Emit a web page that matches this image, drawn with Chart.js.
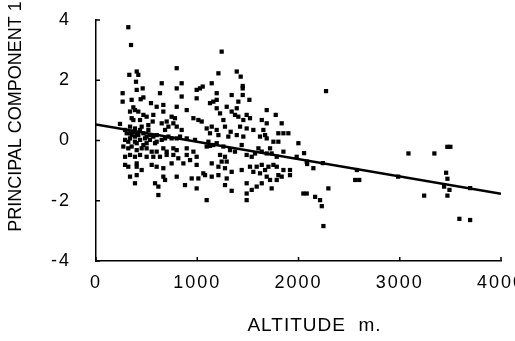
<!DOCTYPE html>
<html><head><meta charset="utf-8">
<script src="https://cdn.jsdelivr.net/npm/chart.js@4"></script>
<style>html,body{margin:0;padding:0;overflow:hidden;background:#fff}#wrap{width:540px;height:341px;position:relative}</style>
</head><body><div id="wrap"><canvas id="c"></canvas></div>
<script>
const altitude = [
319,346,1241,797,402,329,418,1209,1390,1429,395,649,846,1143,1449,1449,263,263,402,461,632,797,994,1054,1027,1192,846,994,1340,1449,1515,1406,441,468,352,1159,1192,1126,543,599,665,797,896,369,385,336,418,468,500,566,665,747,780,962,1011,1044,1192,1225,1291,1340,1373,1390,1406,1258,1455,1488,1521,1686,1775,1637,1686,1834,352,369,435,237,287,336,385,402,451,517,560,649,698,715,764,797,846,682,1093,1143,1192,1274,1330,1423,1488,1554,1653,1670,1801,1851,1900,1126,1209,1307,1390,1455,1620,1686,1752,1801,1999,
303,336,352,369,385,418,435,468,484,500,517,533,566,599,287,319,336,385,402,435,468,500,533,583,599,649,682,715,747,797,830,896,978,1110,1159,1192,1258,1439,1604,1719,1851,
270,319,352,402,451,500,550,599,665,698,764,797,896,962,287,336,385,435,500,566,632,698,764,813,896,994,1093,1126,1225,1274,1324,1373,1488,1538,1571,1637,1686,1735,1785,1982,2081,287,319,402,402,451,550,599,665,747,863,929,994,1143,1209,1241,1291,1274,1521,1587,1637,1670,1703,1752,1785,1851,1916,1686,1719,1801,1834,1916,336,402,665,797,945,1011,1060,1077,1143,1209,1291,1340,1439,1554,1620,1785,385,583,616,682,879,994,1274,1340,1488,1587,1538,1637,1735,616,1488,1488,1093,2048,2081,
2147,2295,2164,2213,2230,2246,2272,3086,3342,3470,3500,2560,2600,2240,2576,2984,3458,3471,3438,3491,3241,3471,3589,3695,3695,2055,2085
];
const pc1 = [
3.76,3.17,2.95,2.40,2.29,2.18,2.18,2.23,2.29,2.12,1.95,1.90,1.90,1.90,1.81,1.73,1.57,1.29,1.68,1.73,1.57,1.73,1.68,1.79,1.73,1.57,1.46,1.40,1.51,1.51,1.35,1.29,1.37,1.43,1.35,1.29,1.35,1.24,1.24,1.12,1.18,1.12,1.01,1.10,1.01,0.96,0.96,0.85,0.79,0.85,0.96,0.79,0.74,0.74,0.68,0.63,1.07,0.90,1.12,0.96,0.85,1.07,0.79,0.68,0.68,0.85,0.74,1.01,0.85,0.68,0.57,0.57,0.74,0.68,0.68,0.55,0.35,0.46,0.40,0.24,0.46,0.51,0.63,0.57,0.63,0.46,0.57,0.46,0.35,0.35,0.40,0.46,0.35,0.46,0.29,0.46,0.40,0.35,0.35,0.18,0.24,0.24,0.24,0.24,0.18,0.13,0.18,0.13,0.13,0.07,-0.04,-0.04,-0.09,
0.24,0.24,0.18,0.29,0.13,0.18,0.35,0.24,0.07,0.13,0.35,0.18,0.13,0.18,0.02,-0.04,0.07,-0.04,-0.09,0.02,-0.15,-0.09,0.02,-0.09,-0.04,0.02,0.07,0.13,0.07,0.07,0.13,0.07,0.02,-0.04,-0.15,-0.09,-0.20,-0.15,-0.26,-0.26,-0.37,
-0.20,-0.26,-0.20,-0.32,-0.26,-0.26,-0.37,-0.37,-0.26,-0.37,-0.26,-0.32,-0.26,-0.37,-0.54,-0.48,-0.54,-0.48,-0.54,-0.54,-0.54,-0.48,-0.48,-0.59,-0.48,-0.54,-0.20,-0.18,-0.48,-0.54,-0.32,-0.37,-0.48,-0.54,-0.43,-0.37,-0.43,-0.43,-0.54,-0.54,-0.70,-0.81,-0.87,-0.76,-0.87,-0.98,-0.81,-0.87,-0.92,-0.76,-0.76,-0.65,-0.81,-0.76,-0.87,-0.70,-0.70,-0.92,-0.87,-0.87,-0.81,-0.98,-0.87,-0.81,-0.87,-0.98,-0.98,-1.20,-1.31,-1.15,-1.20,-1.15,-1.20,-1.15,-1.20,-1.20,-1.26,-1.26,-1.09,-1.15,-1.20,-1.15,-1.26,-1.04,-0.98,-1.04,-1.09,-1.31,-1.42,-1.42,-1.53,-1.31,-1.48,-1.59,-1.48,-1.67,-1.42,-1.53,-1.64,-1.42,-1.59,-1.81,-1.76,-1.98,-1.98,-1.76,-1.76,
-0.92,-1.59,-1.87,-1.98,-2.18,-2.84,1.64,-0.43,-0.43,-0.21,-0.21,-1.31,-1.31,-0.75,-0.98,-1.20,-1.07,-1.27,-1.53,-1.64,-1.83,-1.83,-2.60,-2.64,-1.58,-0.42,-0.78
];
const fitAltitude = [0, 4000];
const fitPC1 = [0.53, -1.77];
const xTicks = [0, 1000, 2000, 3000, 4000];
const yTicks = [-4, -2, 0, 2, 4];
const xTitle = 'ALTITUDE  m.';
const yTitle = 'PRINCIPAL COMPONENT 1';

const FONT = "'Liberation Sans', Arial, sans-serif";
const points = altitude.map((a, i) => ({x: a, y: pc1[i]}));
const fit = fitAltitude.map((a, i) => ({x: a, y: fitPC1[i]}));

const extras = {
  id: 'extras',
  beforeDraw(chart) { chart.ctx.letterSpacing = '2px'; },
  afterDraw(chart) {
    const {ctx, chartArea: ca, scales: {x, y}} = chart;
    ctx.save();
    ctx.strokeStyle = '#000';
    ctx.lineWidth = 1.5;
    ctx.beginPath();
    xTicks.forEach(v => { const p = x.getPixelForValue(v); ctx.moveTo(p, ca.bottom); ctx.lineTo(p, ca.bottom - 4); });
    yTicks.forEach(v => { const p = y.getPixelForValue(v); ctx.moveTo(ca.left, p); ctx.lineTo(ca.left + 4, p); });
    ctx.stroke();
    ctx.fillStyle = '#000';
    ctx.font = '19px ' + FONT;
    ctx.letterSpacing = '1px';
    ctx.textAlign = 'center';
    ctx.textBaseline = 'middle';
    ctx.fillText(xTitle, (ca.left + ca.right) / 2 + 16, 326);
    ctx.font = '18px ' + FONT;
    ctx.letterSpacing = '0px';
    ctx.translate(16, (ca.top + ca.bottom) / 2 - 24);
    ctx.rotate(-Math.PI / 2);
    ctx.fillText(yTitle, 0, 0);
    ctx.restore();
    ctx.letterSpacing = '0px';
  }
};

new Chart(document.getElementById('c'), {
  type: 'scatter',
  data: {
    datasets: [
      {data: points, pointStyle: 'rect', pointRadius: 3, pointHoverRadius: 3, backgroundColor: '#000', borderWidth: 0},
      {type: 'line', data: fit, borderColor: '#000', borderWidth: 2.5, pointRadius: 0, fill: false}
    ]
  },
  options: {
    animation: false,
    responsive: true,
    maintainAspectRatio: false,
    layout: {padding: {left: 0, top: 20, right: 39, bottom: 0}},
    plugins: {legend: {display: false}, tooltip: {enabled: false}},
    scales: {
      x: {
        type: 'linear', min: 0, max: 4000,
        afterBuildTicks: s => { s.ticks = xTicks.map(v => ({value: v})); },
        afterFit: s => { s.height = 80; s.paddingLeft = 0; s.paddingRight = 0; },
        grid: {display: false, drawTicks: false},
        border: {display: true, color: '#000', width: 1.5},
        ticks: {color: '#000', font: {family: FONT, size: 18}, padding: 11, maxRotation: 0, callback: v => String(v)}
      },
      y: {
        type: 'linear', min: -4, max: 4,
        afterBuildTicks: s => { s.ticks = yTicks.map(v => ({value: v})); },
        afterFit: s => { s.width = 96; s.paddingTop = 0; s.paddingBottom = 0; },
        grid: {display: false, drawTicks: false},
        border: {display: true, color: '#000', width: 1.5},
        ticks: {color: '#000', font: {family: FONT, size: 18}, padding: 25, callback: v => String(v)}
      }
    }
  },
  plugins: [extras]
});
</script></body></html>
